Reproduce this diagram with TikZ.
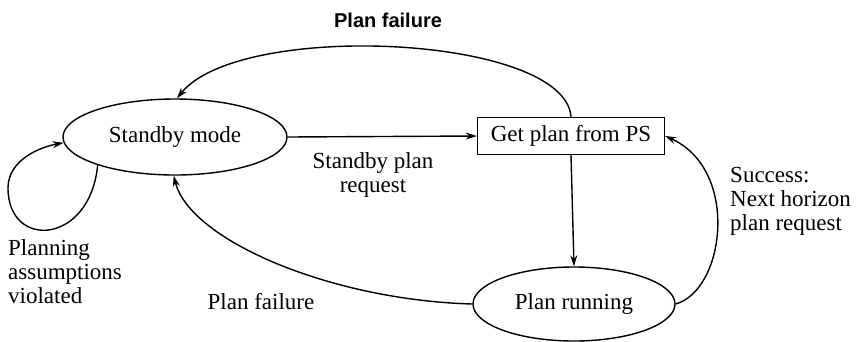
\documentclass[tikz,border=0pt]{standalone}
\usepackage{fontspec}
\setmainfont{Liberation Serif}
\newfontfamily\headfont{Liberation Sans}
\usetikzlibrary{shapes.geometric,arrows.meta}
\tikzset{
  state/.style={ellipse,draw,line width=1.4pt,inner sep=0pt},
  procbox/.style={rectangle,draw,line width=1.4pt,inner sep=0pt,minimum width=187pt,minimum height=37pt},
  conn/.style={line width=1.4pt,-{Stealth[length=11pt,width=7pt]}},
  lbl/.style={inner sep=0pt,font=\fontsize{23}{24}\selectfont},
}
\begin{document}
\begin{tikzpicture}[x=1pt,y=-1pt,font=\fontsize{23}{24}\selectfont]
\useasboundingbox (0,0) rectangle (858,341);
\node[state,minimum width=224pt,minimum height=76pt] (sb) at (175,137) {Standby mode};
\node[procbox] (gp) at (571,136) {Get plan from PS};
\node[state,minimum width=202pt,minimum height=74pt] (pr) at (574,304) {Plan running};

\draw[conn] (sb.east) -- (gp.west);
\draw[conn] (gp.south) -- (pr.north);
\draw[conn] (gp.north) .. controls (565,35) and (240,20) .. (sb.87);
\draw[conn] (pr.west) .. controls (330,300) and (190,240) .. (sb.268);
\draw[conn] (pr.east) .. controls (725,290) and (740,170) .. (gp.east);
\coordinate (lp) at (8,188);
\draw[conn] (sb.200) .. controls (90,245) and (8,250) .. (lp) .. controls (8,160) and (40,147) .. (sb.183);

\node[lbl,font=\headfont\bfseries\fontsize{20}{22}\selectfont] (t1) at (388,20) {Plan failure};
\node[lbl,align=center] (t2) at (373,175) {Standby plan\\request};
\node[lbl,align=left,anchor=west] (t3) at (730,201) {Success:\\Next horizon\\plan request};
\node[lbl,align=left,anchor=west] (t4) at (8,272) {Planning\\assumptions\\violated};
\node[lbl] (t5) at (261,302) {Plan failure};
\end{tikzpicture}
\end{document}
